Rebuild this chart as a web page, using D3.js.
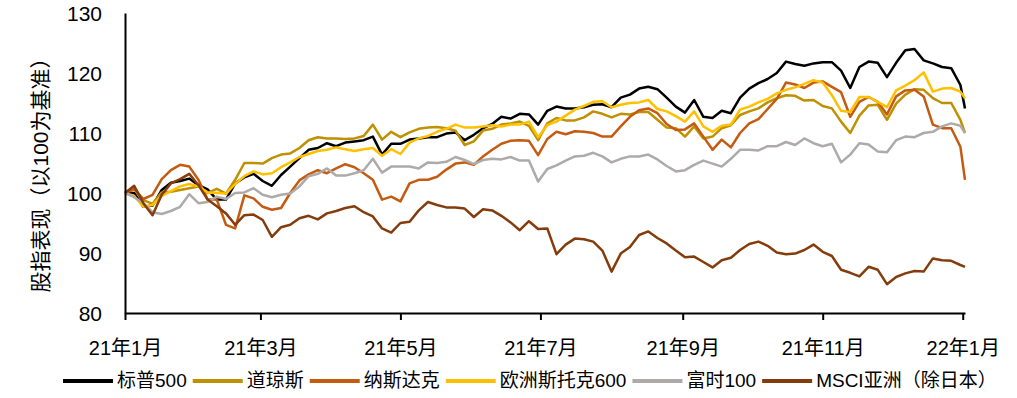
<!DOCTYPE html>
<html>
<head>
<meta charset="utf-8">
<script src="https://cdn.jsdelivr.net/npm/d3@7"></script>
<style>
  body { margin: 0; background: #fff; }
  svg text { font-family: "Liberation Sans", "Noto Sans CJK SC", sans-serif; fill: #000; }
</style>
</head>
<body>
<div id="chart"></div>
<script>
// 日期（每4天取一个点）
var dates = [
  '2021-01-01','2021-01-05','2021-01-09','2021-01-13','2021-01-17','2021-01-21','2021-01-25','2021-01-29',
  '2021-02-02','2021-02-06','2021-02-10','2021-02-14','2021-02-18','2021-02-22','2021-02-26',
  '2021-03-02','2021-03-06','2021-03-10','2021-03-14','2021-03-18','2021-03-22','2021-03-26','2021-03-30',
  '2021-04-03','2021-04-07','2021-04-11','2021-04-15','2021-04-19','2021-04-23','2021-04-27',
  '2021-05-01','2021-05-05','2021-05-09','2021-05-13','2021-05-17','2021-05-21','2021-05-25','2021-05-29',
  '2021-06-02','2021-06-06','2021-06-10','2021-06-14','2021-06-18','2021-06-22','2021-06-26','2021-06-30',
  '2021-07-04','2021-07-08','2021-07-12','2021-07-16','2021-07-20','2021-07-24','2021-07-28',
  '2021-08-01','2021-08-05','2021-08-09','2021-08-13','2021-08-17','2021-08-21','2021-08-25','2021-08-29',
  '2021-09-02','2021-09-06','2021-09-10','2021-09-14','2021-09-18','2021-09-22','2021-09-26','2021-09-30',
  '2021-10-04','2021-10-08','2021-10-12','2021-10-16','2021-10-20','2021-10-24','2021-10-28',
  '2021-11-01','2021-11-05','2021-11-09','2021-11-13','2021-11-17','2021-11-21','2021-11-25','2021-11-29',
  '2021-12-03','2021-12-07','2021-12-11','2021-12-15','2021-12-19','2021-12-23','2021-12-27','2021-12-31',
  '2022-01-02'
];

var sp500 = [100, 100.0, 97.7, 97.9, 100.5, 101.7, 102.0, 102.4, 101.3, 100.6, 98.9, 98.9, 101.6, 102.6, 103.2, 102.0, 101.2, 103.0, 104.4, 105.8, 107.2, 107.5, 108.3, 107.8, 108.4, 108.6, 108.8, 109.4, 106.4, 108.2, 108.2, 108.9, 109.1,
  109.3, 109.3, 109.9, 110.1, 108.8, 109.7, 110.8, 111.5, 112.7, 112.4, 113.2, 113.1, 111.4, 113.7, 114.4, 114.1, 114.1, 114.3, 114.7, 114.8, 114.3, 115.9, 116.4, 117.4, 117.7, 117.3, 115.9, 114.4, 113.4, 115.5,
  112.7, 112.5, 113.7, 113.3, 115.9, 117.4, 118.3, 119.0, 120.0, 121.9, 121.5, 121.2, 121.6, 121.8, 121.8, 120.4, 117.5, 121.0, 121.9, 121.7, 119.3, 121.7, 123.8, 124.0, 122.1, 121.6, 121.0, 120.8, 118.0, 114.1];

var dow = [100, 100.9, 98.8, 98.2, 100.1, 100.2, 100.5, 100.8, 101.1, 100.0, 100.7, 99.9, 102.2, 105.0, 105.0, 104.9, 105.8, 106.4, 106.6, 107.5, 108.8, 109.3, 109.1, 109.1, 109.0, 109.1, 109.5, 111.4, 108.9, 110.2, 109.3, 110.1, 110.7,
  110.9, 111.0, 110.8, 110.4, 108.0, 108.6, 110.4, 110.7, 111.4, 111.6, 111.9, 111.2, 108.8, 111.6, 112.5, 112.1, 112.1, 112.6, 113.6, 113.2, 112.6, 113.2, 113.1, 113.5, 113.5, 112.2, 110.9, 110.8, 109.4, 111.1,
  109.1, 109.4, 110.8, 111.3, 113.0, 113.6, 114.1, 115.1, 115.8, 116.3, 116.2, 115.4, 115.5, 114.5, 114.1, 111.9, 110.0, 112.9, 114.6, 114.7, 112.2, 114.9, 116.4, 117.3, 117.2, 115.8, 115.0, 115.0, 112.2, 110.0];

var nasdaq = [100, 100.6, 99.0, 99.7, 102.3, 103.8, 104.7, 104.4, 102.2, 98.9, 98.9, 94.7, 94.1, 99.6, 99.1, 97.7, 97.2, 97.5, 100.0, 102.1, 103.1, 103.8, 103.3, 104.1, 104.8, 104.3, 103.3, 102.2, 98.9, 99.4, 98.6, 101.6, 102.2,
  102.2, 102.7, 103.9, 104.9, 105.1, 104.7, 106.1, 107.2, 108.2, 108.7, 108.8, 108.7, 106.3, 109.0, 110.2, 109.8, 110.3, 110.2, 110.0, 109.4, 109.4, 111.1, 112.7, 113.8, 114.1, 113.3, 111.5, 110.5, 110.6, 111.6,
  109.4, 107.2, 108.9, 107.6, 110.0, 111.6, 112.3, 114.0, 115.7, 118.4, 118.1, 117.5, 118.4, 118.6, 117.7, 116.8, 112.7, 115.2, 116.0, 115.2, 113.1, 116.1, 117.1, 117.2, 116.1, 111.4, 110.8, 110.8, 107.7, 102.2];

var stoxx600 = [100, 99.5, 97.7, 98.0, 99.5, 100.3, 101.1, 101.5, 101.1, 100.1, 100.0, 99.9, 101.5, 102.8, 103.6, 103.1, 103.3, 104.3, 105.1, 106.0, 106.5, 107.0, 107.2, 107.6, 107.3, 107.0, 107.3, 107.5, 106.2, 107.3, 106.5, 108.4, 109.1,
  109.5, 110.2, 110.7, 111.4, 110.9, 110.9, 111.1, 111.3, 111.1, 111.4, 111.4, 111.9, 109.3, 111.3, 111.9, 112.9, 113.9, 114.5, 115.2, 115.3, 114.3, 114.7, 115.0, 115.1, 115.5, 114.0, 113.6, 112.8, 111.9, 113.6,
  111.1, 110.2, 111.2, 111.4, 113.9, 114.4, 115.1, 115.7, 116.6, 117.2, 117.6, 118.2, 118.8, 118.4, 116.3, 113.7, 113.5, 116.0, 116.0, 115.2, 114.3, 117.1, 117.9, 118.8, 120.1, 116.9, 117.4, 117.5, 116.9, 115.8];

var ftse100 = [100, 99.3, 98.3, 96.8, 96.5, 97.0, 97.7, 99.8, 98.3, 98.5, 99.4, 99.0, 100.0, 100.1, 100.8, 99.7, 99.3, 99.7, 99.9, 101.1, 102.8, 103.2, 104.1, 102.9, 102.9, 103.3, 103.8, 105.7, 103.4, 104.4, 104.4, 104.4, 104.1,
  105.1, 105.0, 105.2, 106.0, 105.5, 104.8, 105.5, 105.7, 105.6, 106.0, 105.4, 105.4, 101.9, 104.0, 104.6, 105.4, 106.1, 106.2, 106.7, 106.1, 105.1, 105.7, 106.1, 106.1, 106.4, 105.6, 104.5, 103.6, 103.8, 104.7,
  105.4, 104.9, 104.4, 105.7, 107.2, 107.2, 107.1, 107.8, 107.8, 108.5, 108.0, 109.1, 108.3, 107.8, 108.2, 105.1, 106.4, 108.3, 108.1, 106.9, 106.8, 108.8, 109.4, 109.3, 110.0, 110.2, 111.1, 111.6, 111.2, 110.0];

var msciAsia = [100, 101.2, 98.3, 96.3, 99.7, 101.6, 102.3, 103.2, 101.3, 98.9, 97.8, 96.6, 94.7, 96.3, 96.4, 95.5, 92.7, 94.3, 94.7, 95.8, 96.2, 95.6, 96.6, 97.0, 97.5, 97.8, 96.8, 96.1, 94.1, 93.4, 95.0, 95.2, 97.1,
  98.5, 98.0, 97.6, 97.6, 97.4, 96.0, 97.3, 97.1, 96.2, 95.1, 93.8, 95.3, 94.0, 94.1, 89.8, 91.4, 92.4, 92.3, 91.9, 90.4, 86.9, 89.9, 91.0, 93.0, 93.6, 92.5, 91.6, 90.4, 89.3, 89.4,
  88.5, 87.6, 88.8, 89.2, 90.5, 91.5, 91.9, 91.2, 90.1, 89.8, 89.9, 90.5, 91.4, 90.2, 89.5, 87.2, 86.7, 86.1, 87.7, 87.2, 84.8, 86.0, 86.6, 87.0, 86.9, 89.1, 88.8, 88.7, 88.0, 87.7];

var seriesNames = ['标普500', '道琼斯', '纳斯达克', '欧洲斯托克600', '富时100', 'MSCI亚洲（除日本）'];
var seriesValues = [sp500, dow, nasdaq, stoxx600, ftse100, msciAsia];
var colors = ['#000000', '#BF9000', '#C55A11', '#FFC000', '#AEAAAA', '#843C0C'];
var yTicks = [80, 90, 100, 110, 120, 130];

var width = 1017, height = 398;
var parse = d3.timeParse('%Y-%m-%d');
var dateObjs = dates.map(parse);

var svg = d3.select('#chart').append('svg')
    .attr('width', width)
    .attr('height', height);

var x = d3.scaleTime()
    .domain([parse('2021-01-01'), parse('2022-01-02')])
    .range([125, 965]);
var y = d3.scaleLinear().domain([80, 130]).range([313, 13]);

// 折线
var line = d3.line()
    .x(function(d) { return x(d.date); })
    .y(function(d) { return y(d.v); });

seriesValues.forEach(function(vals, i) {
    var pts = vals.map(function(v, j) { return {date: dateObjs[j], v: v}; });
    svg.append('path')
        .datum(pts)
        .attr('d', line)
        .attr('fill', 'none')
        .attr('stroke', colors[i])
        .attr('stroke-width', 2.5)
        .attr('stroke-linejoin', 'round');
});

// Y轴
var yAxis = d3.axisLeft(y).tickValues(yTicks).tickSize(0).tickSizeOuter(0).tickPadding(23);
var gy = svg.append('g').attr('transform', 'translate(125,0)').call(yAxis);
gy.select('.domain').attr('stroke', '#000').attr('stroke-width', 2);
gy.selectAll('text').style('font-size', '21px').attr('dy', '0.36em');

// X轴
var monthTicks = d3.timeMonth.every(2).range(parse('2021-01-01'), parse('2022-01-02'));
var fmt = function(d) { return d3.timeFormat('%y')(d) + '年' + (d.getMonth() + 1) + '月'; };
var xAxis = d3.axisBottom(x).tickValues(monthTicks).tickFormat(fmt)
    .tickSize(7).tickSizeOuter(0).tickPadding(21);
var gx = svg.append('g').attr('transform', 'translate(0,313)').call(xAxis);
gx.select('.domain').attr('stroke', '#000').attr('stroke-width', 2);
gx.selectAll('.tick line').attr('stroke', '#000').attr('stroke-width', 2);
gx.selectAll('text').style('font-size', '20px');

// Y轴标题
svg.append('text')
    .attr('transform', 'translate(40,170) rotate(-90)')
    .attr('text-anchor', 'middle')
    .attr('dominant-baseline', 'central')
    .style('font-size', '21px')
    .text('股指表现（以100为基准）');

// 图例
var lx = 63;
seriesNames.forEach(function(name, i) {
    svg.append('line')
        .attr('x1', lx).attr('x2', lx + 50)
        .attr('y1', 381).attr('y2', 381)
        .attr('stroke', colors[i])
        .attr('stroke-width', 4);
    var t = svg.append('text')
        .attr('x', lx + 54)
        .attr('y', 387)
        .style('font-size', '19px')
        .text(name);
    lx += 54 + t.node().getComputedTextLength() + 6;
});
</script>
</body>
</html>
